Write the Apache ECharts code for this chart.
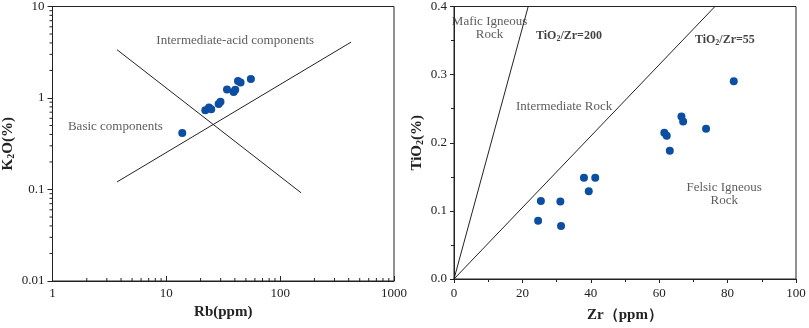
<!DOCTYPE html>
<html>
<head>
<meta charset="utf-8">
<script src="https://cdn.jsdelivr.net/npm/echarts@6/dist/echarts.min.js"></script>
<style>
  html, body { margin: 0; padding: 0; background: #fff; }
  #main { width: 809px; height: 328px; }
</style>
</head>
<body>
<div id="main"></div>
<script>
let chart = echarts.init(document.getElementById('main'));
let FONT = 'Liberation Serif';
let INK = '#222';

// 左图: Rb - K2O
let rbK2o = [
  [13.8, 0.415], [22.0, 0.733], [23.7, 0.785], [24.8, 0.752],
  [28.8, 0.859], [29.9, 0.912], [34.1, 1.24], [39.0, 1.16],
  [40.3, 1.23], [42.6, 1.53], [44.9, 1.48], [55.3, 1.61]
];
let boundaryDown = [[3.69, 3.37], [152.8, 0.092]];
let boundaryUp = [[3.69, 0.121], [419.7, 4.08]];
let rbMinor = [2, 3, 4, 5, 6, 7, 8, 9, 20, 30, 40, 50, 60, 70, 80, 90, 200, 300, 400, 500, 600, 700, 800, 900];
let k2oMinor = [0.02, 0.03, 0.04, 0.05, 0.06, 0.07, 0.08, 0.09, 0.2, 0.3, 0.4, 0.5, 0.6, 0.7, 0.8, 0.9, 2, 3, 4, 5, 6, 7, 8, 9];
let leftNotes = [
  { text: 'Intermediate-acid components', at: [40.3, 4.25] },
  { text: 'Basic components', at: [3.57, 0.491] }
];

// 右图: Zr - TiO2
let zrTio2 = [
  [24.6, 0.0856], [25.4, 0.1146], [31.1, 0.1137], [31.3, 0.0779],
  [38.0, 0.1485], [41.3, 0.1485], [39.4, 0.1287], [61.5, 0.2148],
  [62.2, 0.2104], [63.1, 0.1882], [66.5, 0.2385], [67.0, 0.2312],
  [73.7, 0.2206], [81.8, 0.2902]
];
let ratio200 = [[0, 0], [21.7, 0.4]];
let ratio55 = [[0, 0], [76.3, 0.4]];
let rightNotes = [
  { text: 'Mafic Igneous\nRock', at: [10.4, 0.369], bold: false },
  { text: 'TiO{s|2}/Zr=200', at: [33.6, 0.3565], bold: true },
  { text: 'TiO{s|2}/Zr=55', at: [79.2, 0.3507], bold: true },
  { text: 'Intermediate Rock', at: [32.2, 0.2535], bold: false },
  { text: 'Felsic Igneous\nRock', at: [79.0, 0.1243], bold: false }
];

let tickLabel = { color: INK, fontFamily: FONT, fontSize: 13 };
let axisName = { color: INK, fontFamily: FONT, fontSize: 15, fontWeight: 'bold',
  rich: { s: { fontFamily: FONT, fontSize: 10, fontWeight: 'bold', color: INK, verticalAlign: 'bottom', padding: [6, 0, 0, 0] } } };

function noteSeries(notes, axisIndex) {
  return notes.map(function (n) {
    return {
      type: 'scatter', xAxisIndex: axisIndex, yAxisIndex: axisIndex,
      symbolSize: 0, silent: true,
      data: [n.at],
      label: {
        show: true, position: 'inside', formatter: n.text,
        fontFamily: FONT, fontSize: n.bold ? 12 : 13, color: n.bold ? '#111' : '#333',
        fontWeight: n.bold ? 'bold' : 'normal', lineHeight: 13, align: 'center',
        rich: { s: { fontFamily: FONT, fontSize: 8, fontWeight: 'bold', color: '#111', verticalAlign: 'bottom', padding: [5, 0, 0, 0] } }
      }
    };
  });
}

function minorTickSeries(values, onX) {
  return {
    type: 'custom', xAxisIndex: 0, yAxisIndex: 0, silent: true, clip: false,
    data: values.map(function (v) { return onX ? [v, 0.01] : [1, v]; }),
    renderItem: function (params, api) {
      let p = api.coord([api.value(0), api.value(1)]);
      return {
        type: 'line',
        shape: onX ? { x1: p[0], y1: p[1], x2: p[0], y2: p[1] - 3 }
                   : { x1: p[0], y1: p[1], x2: p[0] - 3, y2: p[1] },
        style: { stroke: INK, lineWidth: 1 }
      };
    }
  };
}

let option = {
  animation: false,
  grid: [
    { left: 52, top: 6, width: 342, height: 275, show: true, borderColor: INK, borderWidth: 1 },
    { left: 454, top: 6, width: 342, height: 276, show: true, borderColor: INK, borderWidth: 1 }
  ],
  xAxis: [
    {
      gridIndex: 0, type: 'log', logBase: 10, min: 1, max: 1000,
      name: 'Rb(ppm)', nameLocation: 'middle', nameGap: 21, nameTextStyle: axisName,
      axisLine: { lineStyle: { color: INK } },
      axisTick: { inside: true, length: 5, lineStyle: { color: INK } },
      axisLabel: Object.assign({ margin: 6, formatter: function (v) { return String(v); } }, tickLabel),
      splitLine: { show: false }
    },
    {
      gridIndex: 1, type: 'value', min: 0, max: 100, interval: 20,
      name: 'Zr（ppm）', nameLocation: 'middle', nameGap: 29, nameTextStyle: axisName,
      axisLine: { lineStyle: { color: INK } },
      axisTick: { length: 4, lineStyle: { color: INK } },
      minorTick: { show: true, splitNumber: 2, length: 3, lineStyle: { color: INK } },
      axisLabel: Object.assign({ margin: 8 }, tickLabel),
      splitLine: { show: false }
    }
  ],
  yAxis: [
    {
      gridIndex: 0, type: 'log', logBase: 10, min: 0.01, max: 10,
      name: 'K{s|2}O(%)', nameLocation: 'middle', nameGap: 36, nameTextStyle: axisName,
      axisLine: { lineStyle: { color: INK } },
      axisTick: { length: 5, lineStyle: { color: INK } },
      axisLabel: Object.assign({ margin: 8, formatter: function (v) { return String(v); } }, tickLabel),
      splitLine: { show: false }
    },
    {
      gridIndex: 1, type: 'value', min: 0, max: 0.4, interval: 0.1,
      name: 'TiO{s|2}(%)', nameLocation: 'middle', nameGap: 29, nameTextStyle: axisName,
      axisLine: { lineStyle: { color: INK } },
      axisTick: { length: 4, lineStyle: { color: INK } },
      minorTick: { show: true, splitNumber: 2, length: 3, lineStyle: { color: INK } },
      axisLabel: Object.assign({ margin: 7, formatter: function (v) { return v.toFixed(1); } }, tickLabel),
      splitLine: { show: false }
    }
  ],
  series: [
    minorTickSeries(rbMinor, true),
    minorTickSeries(k2oMinor, false),
    { type: 'line', xAxisIndex: 0, yAxisIndex: 0, data: boundaryDown, symbol: 'none', silent: true,
      lineStyle: { color: INK, width: 1 } },
    { type: 'line', xAxisIndex: 0, yAxisIndex: 0, data: boundaryUp, symbol: 'none', silent: true,
      lineStyle: { color: INK, width: 1 } },
    { type: 'scatter', xAxisIndex: 0, yAxisIndex: 0, data: rbK2o, symbolSize: 8,
      itemStyle: { color: '#0b4ea2', opacity: 1 } },
    { type: 'line', xAxisIndex: 1, yAxisIndex: 1, data: ratio200, symbol: 'none', silent: true,
      lineStyle: { color: INK, width: 1 } },
    { type: 'line', xAxisIndex: 1, yAxisIndex: 1, data: ratio55, symbol: 'none', silent: true,
      lineStyle: { color: INK, width: 1 } },
    { type: 'scatter', xAxisIndex: 1, yAxisIndex: 1, data: zrTio2, symbolSize: 8,
      itemStyle: { color: '#0b4ea2', opacity: 1 } }
  ].concat(noteSeries(leftNotes, 0), noteSeries(rightNotes, 1))
};

chart.setOption(option);
</script>
</body>
</html>
